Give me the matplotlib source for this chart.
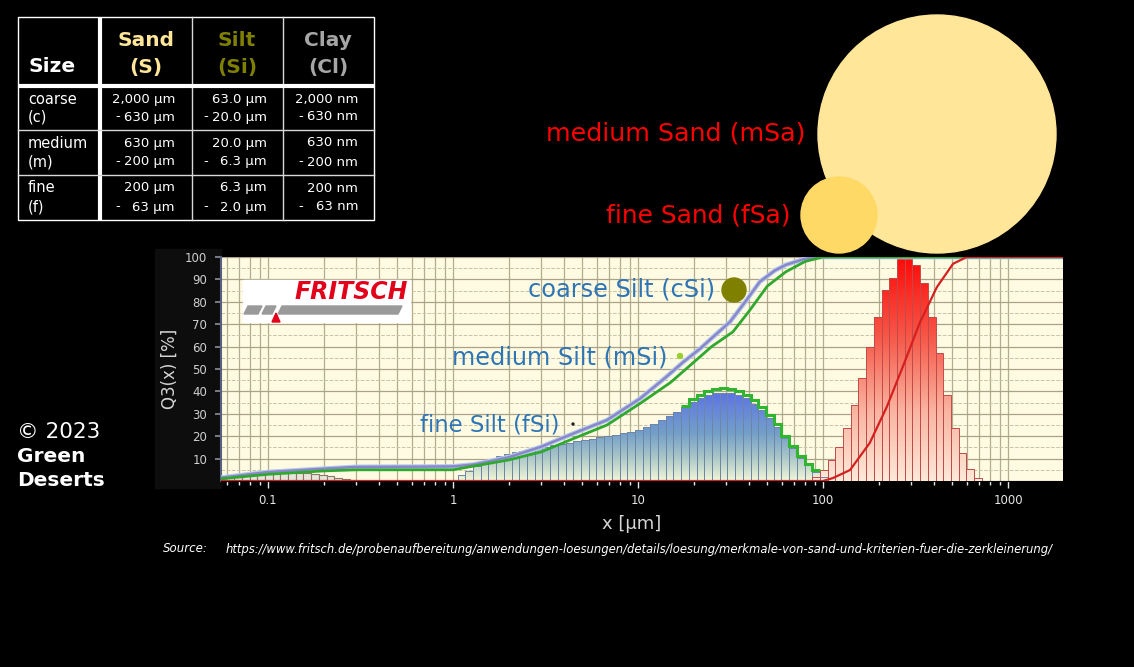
import numpy as np
import matplotlib.pyplot as plt
import matplotlib.patheffects as pe
from matplotlib.path import Path
from matplotlib.patches import PathPatch, Circle, Rectangle, Polygon
from matplotlib.colors import LinearSegmentedColormap
from matplotlib.ticker import LogLocator, MultipleLocator, NullFormatter

plt.rcParams['font.family'] = ['DejaVu Sans']

W, H = 1134, 667

# ---- table data ----
table_heads = ["Sand", "Silt", "Clay"]
table_abbr = ["(S)", "(Si)", "(Cl)"]
table_colors = ["#ffe699", "#808000", "#a6a6a6"]
size_rows = ["coarse", "medium", "fine"]
size_abbr = ["(c)", "(m)", "(f)"]
sand_top = ["2,000 µm", "630 µm", "200 µm"]
sand_bot = ["630 µm", "200 µm", "63 µm"]
silt_top = ["63.0 µm", "20.0 µm", "6.3 µm"]
silt_bot = ["20.0 µm", "6.3 µm", "2.0 µm"]
clay_top = ["2,000 nm", "630 nm", "200 nm"]
clay_bot = ["630 nm", "200 nm", "63 nm"]

# ---- chart data (x in µm, y in %) ----
# size classes: 24 per decade, edges at 10**(2.4 + k/24)
class_k = np.arange(-88, 12)
class_edges = 10 ** (2.4 + class_k / 24)

fine_first_k = -88
fine_q3 = [1, 1.5, 2, 2.5, 3, 3.3, 3.5, 3.7, 3.8, 3.8, 3.7, 3.5, 3.2, 2.8, 2.2, 1.5, 0.8, 0.3]

silt_first_k = -57
silt_q3 = [2.5, 4.5, 6.5, 8.5, 10, 11, 12, 12.8, 13.5, 14.1, 14.7, 15.3, 15.9, 16.5,
           17.1, 17.7, 18.3, 18.9, 19.5, 20.1, 20.7, 21.3, 22, 22.8, 24, 25.4, 27.2,
           29, 30.9, 32.9, 35.4, 36.9, 38.4, 39.1, 39.4, 39.1, 38.4, 36.9, 34.5, 31.5,
           28, 24, 19, 14.6, 10.1, 7, 4.2, 2]

silt2_first_k = -28
silt2_q3 = [33.5, 36.5, 38.3, 40, 41, 41.5, 41, 40.2, 38.5, 36, 33, 29.5, 25.3, 20.2,
            15.5, 11, 7.8, 4.8]

sand_first_k = -11
sand_q3 = [2, 4.9, 9.4, 15.3, 23.5, 33.9, 45.8, 60, 73.4, 85.3, 90.5, 104, 104, 96.4,
           88.5, 73.4, 57, 38.4, 23.5, 12.4, 5.2, 1.2]

silt_Q3_x = [0.0557, 0.075, 0.1, 0.2, 0.3, 0.6, 1.0, 1.3, 2.0, 3.0, 4.5, 6.8, 10.3, 14,
             17.5, 21.6, 26, 31.4, 38, 45.6, 55, 63, 80, 93, 2000]
silt_Q3_y = [1.5, 2.8, 4.0, 5.5, 6.3, 6.4, 6.5, 7.4, 10.6, 15.3, 21.3, 27.2, 36.9, 46,
             53, 59, 65, 71, 80, 89, 94, 96.5, 99.2, 100, 100]
silt2_Q3_x = [0.0557, 0.1, 0.2, 0.3, 0.6, 1.0, 1.3, 2.0, 3.0, 4.5, 6.8, 10.3, 15, 20,
              25, 32.6, 40, 50, 63, 80, 100, 2000]
silt2_Q3_y = [1.0, 3.0, 4.5, 5.0, 5.0, 5.0, 6.7, 9.4, 13.0, 19.0, 25.0, 34.7, 44, 53,
              60, 66.6, 76, 87, 93.4, 98, 100, 100]
sand_Q3_x = [0.0557, 100, 113, 140, 179, 221, 270, 333, 413, 505, 600, 2000]
sand_Q3_y = [0, 0, 1.3, 4.9, 17, 33, 51, 70.5, 86.6, 97, 100, 100]

x_ticks = [0.1, 1, 10, 100, 1000]
x_ticklabels = ["0.1", "1", "10", "100", "1000"]
y_ticks = [10, 20, 30, 40, 50, 60, 70, 80, 90, 100]


def class_slice(first_k, vals):
    i = first_k - class_k[0]
    return class_edges[i:i + len(vals) + 1]


def gradient_bars(ax, edges, vals, colors, vmax, edgecolor, z):
    ax.bar(edges[:-1], vals, width=np.diff(edges), align='edge', facecolor='none',
           edgecolor=edgecolor, linewidth=0.7, zorder=z + 1)
    verts, codes = [], []
    for x0, x1, h in zip(edges[:-1], edges[1:], vals):
        verts += [(x0, 0), (x1, 0), (x1, h), (x0, h), (x0, 0)]
        codes += [Path.MOVETO, Path.LINETO, Path.LINETO, Path.LINETO, Path.CLOSEPOLY]
    clip = PathPatch(Path(verts, codes), transform=ax.transData, fc='none', ec='none')
    ax.add_patch(clip)
    cmap = LinearSegmentedColormap.from_list('grad', colors)
    grad = np.linspace(0, 1, 256).reshape(-1, 1)
    im = ax.imshow(grad, cmap=cmap, extent=[edges[0], edges[-1], 0, vmax],
                   origin='lower', aspect='auto', zorder=z, interpolation='bilinear')
    im.set_clip_path(clip)


fig = plt.figure(figsize=(W / 100, H / 100), dpi=100, facecolor='black')
# dark backdrop behind the y axis of the pasted chart
fig.add_artist(Rectangle((155 / W, 1 - 488 / H), 66 / W, 239 / H,
                         transform=fig.transFigure, color='#0d0d0d', zorder=-1))

# ---- chart ----
ax = fig.add_axes([221 / W, 1 - 481 / H, 842 / W, 224 / H])
ax.set_facecolor('#fffbe2')
ax.set_xscale('log')
ax.set_axisbelow(True)

# fine fraction
fe = class_slice(fine_first_k, fine_q3)
ax.bar(fe[:-1], fine_q3, width=np.diff(fe), align='edge', facecolor='#e4e6dc',
       edgecolor='#8f7565', linewidth=0.8, zorder=3)

# silt histogram
gradient_bars(ax, class_slice(silt_first_k, silt_q3), silt_q3,
              [(0, '#f1f5d6'), (0.25, '#a9c6c6'), (0.5, '#74a0c8'), (0.8, '#6482dc'),
               (1, '#5a6ce8')], 42, '#6d86a8', 3)
ax.stairs(silt2_q3, class_slice(silt2_first_k, silt2_q3), color='#2fb52f',
          linewidth=2.2, zorder=5, baseline=None)

# sand histogram
gradient_bars(ax, class_slice(sand_first_k, sand_q3), sand_q3,
              [(0, '#fde9d8'), (0.3, '#f9b4a0'), (0.6, '#f65c4c'), (1, '#ff0000')],
              104, '#c24a4a', 3)

# cumulative curves
ax.plot(silt_Q3_x, silt_Q3_y, color='#8b86cb', linewidth=1.8, zorder=7,
        path_effects=[pe.Stroke(linewidth=3.4, foreground='#b2cdea'), pe.Normal()])
ax.plot(silt2_Q3_x, silt2_Q3_y, color='#30a830', linewidth=2.0, zorder=7)
ax.plot(sand_Q3_x, sand_Q3_y, color='#d42020', linewidth=1.6, zorder=7)

ax.set_xlim(0.0557, 1983)
ax.set_ylim(0, 100)
ax.set_xticks(x_ticks)
ax.set_xticklabels(x_ticklabels)
ax.xaxis.set_minor_locator(LogLocator(base=10, subs=np.arange(2, 10)))
ax.xaxis.set_minor_formatter(NullFormatter())
ax.set_yticks(y_ticks)
ax.yaxis.set_minor_locator(MultipleLocator(5))

ax.grid(which='both', axis='x', color='#b3ac90', linewidth=0.9)
ax.grid(which='major', axis='y', color='#aaa286', linewidth=0.9)
ax.grid(which='minor', axis='y', color='#c9c2a6', linewidth=0.7, linestyle='--')

ax.tick_params(axis='x', which='major', colors='#e6e6e6', labelsize=8.5,
               length=5, width=1, pad=4)
ax.tick_params(axis='x', which='minor', colors='#e6e6e6', length=3, width=1)
ax.tick_params(axis='y', which='major', color='#8a8ea0', labelcolor='#d0d0d0',
               labelsize=8.5, length=4, width=1.2, pad=6)
ax.tick_params(axis='y', which='minor', length=0)
for s in ['top', 'right']:
    ax.spines[s].set_visible(False)
ax.spines['left'].set_color('#5a6080')
ax.spines['left'].set_linewidth(1.5)
ax.spines['bottom'].set_color('black')

ax.text((170 - 221) / 842, 0.5, 'Q3(x) [%]', rotation=90, transform=ax.transAxes,
        ha='center', va='center', color='#d6d6d6', fontsize=12)
ax.text((632 - 221) / 842, (481 - 524) / 224, 'x [µm]', transform=ax.transAxes,
        ha='center', va='center', color='#d6d6d6', fontsize=13)

# ---- overlay in pixel coordinates ----
ov = fig.add_axes([0, 0, 1, 1])
ov.set_xlim(0, W)
ov.set_ylim(H, 0)
ov.axis('off')

# sand grains
ov.add_patch(Circle((937, 134), 119, color='#ffe699', zorder=2))
ov.add_patch(Circle((839, 215), 38, color='#ffd966', zorder=3))
ov.text(805, 133, 'medium Sand (mSa)', color='#ff0000', fontsize=18.3, ha='right', va='center')
ov.text(790, 215, 'fine Sand (fSa)', color='#ff0000', fontsize=17.9, ha='right', va='center')

# silt labels
silt_blue = '#2e75b6'
ov.text(715, 290, 'coarse Silt (cSi)', color=silt_blue, fontsize=17.3, ha='right', va='center', zorder=8)
ov.add_patch(Circle((734, 290), 12, color='#808000', zorder=8))
ov.text(667, 357, 'medium Silt (mSi)', color=silt_blue, fontsize=17.3, ha='right', va='center', zorder=8)
ov.add_patch(Circle((680, 356), 2.5, color='#9acd32', zorder=8))
ov.text(560, 425, 'fine Silt (fSi)', color=silt_blue, fontsize=16.4, ha='right', va='center', zorder=8)
ov.add_patch(Circle((573, 424), 1.0, color='#222222', zorder=8))

# logo
ov.add_patch(Rectangle((243, 280), 167, 42, color='white', zorder=8))
ov.text(408, 292, 'FRITSCH', color='#e2001a', fontsize=17, fontweight='bold',
        fontstyle='italic', ha='right', va='center', zorder=9)
for poly in ([(244, 314), (248, 306), (262, 306), (258, 314)],
             [(262, 314), (266, 306), (276, 306), (272, 314)],
             [(278, 314), (282, 306), (402, 306), (398, 314)]):
    ov.add_patch(Polygon(poly, closed=True, color='#9a9a9a', zorder=9))
ov.add_patch(Polygon([(272, 322), (276, 313), (280, 322)], closed=True, color='#e2001a', zorder=9))

# table
ov.add_patch(Rectangle((18, 17), 356, 203, fill=False, ec='white', lw=1))
ov.plot([100, 100], [17, 220], color='white', lw=3, solid_capstyle='butt')
for xv in (192, 283):
    ov.plot([xv, xv], [17, 220], color='#d8d8d8', lw=1)
ov.plot([18, 374], [86, 86], color='white', lw=3, solid_capstyle='butt')
for yv in (130, 175):
    ov.plot([18, 374], [yv, yv], color='#d8d8d8', lw=1)

ov.text(28, 67, 'Size', color='white', fontsize=14.5, fontweight='bold', ha='left', va='center')
col_centers = [146, 237, 328]
for cx, head, ab, c in zip(col_centers, table_heads, table_abbr, table_colors):
    ov.text(cx, 40, head, color=c, fontsize=14.5, fontweight='bold', ha='center', va='center')
    ov.text(cx, 67, ab, color=c, fontsize=14.5, fontweight='bold', ha='center', va='center')

row_top = [99, 143, 188]
row_bot = [117, 162, 207]
col_right = [175, 267, 358]
col_dash = [115, 203, 298]
for i in range(3):
    ov.text(28, row_top[i], size_rows[i], color='white', fontsize=10.5, ha='left', va='center')
    ov.text(28, row_bot[i], size_abbr[i], color='white', fontsize=10.5, ha='left', va='center')
    for j, (tops, bots) in enumerate([(sand_top, sand_bot), (silt_top, silt_bot), (clay_top, clay_bot)]):
        ov.text(col_right[j], row_top[i], tops[i], color='white', fontsize=9.5, ha='right', va='center')
        ov.text(col_right[j], row_bot[i], bots[i], color='white', fontsize=9.5, ha='right', va='center')
        ov.text(col_dash[j], row_bot[i], '-', color='white', fontsize=9.5, ha='left', va='center')

# copyright
ov.text(17, 432, '© 2023', color='white', fontsize=15.5, ha='left', va='center')
ov.text(17, 456, 'Green', color='white', fontsize=14.5, fontweight='bold', ha='left', va='center')
ov.text(17, 480, 'Deserts', color='white', fontsize=14.5, fontweight='bold', ha='left', va='center')

# source
ov.text(163, 549, 'Source:', color='white', fontsize=8.5, fontstyle='italic', ha='left', va='center')
ov.text(226, 549, 'https://www.fritsch.de/probenaufbereitung/anwendungen-loesungen/details/loesung/'
        'merkmale-von-sand-und-kriterien-fuer-die-zerkleinerung/',
        color='white', fontsize=8.4, fontstyle='italic', ha='left', va='center')

fig.savefig('out.png', dpi=100, facecolor='black')
